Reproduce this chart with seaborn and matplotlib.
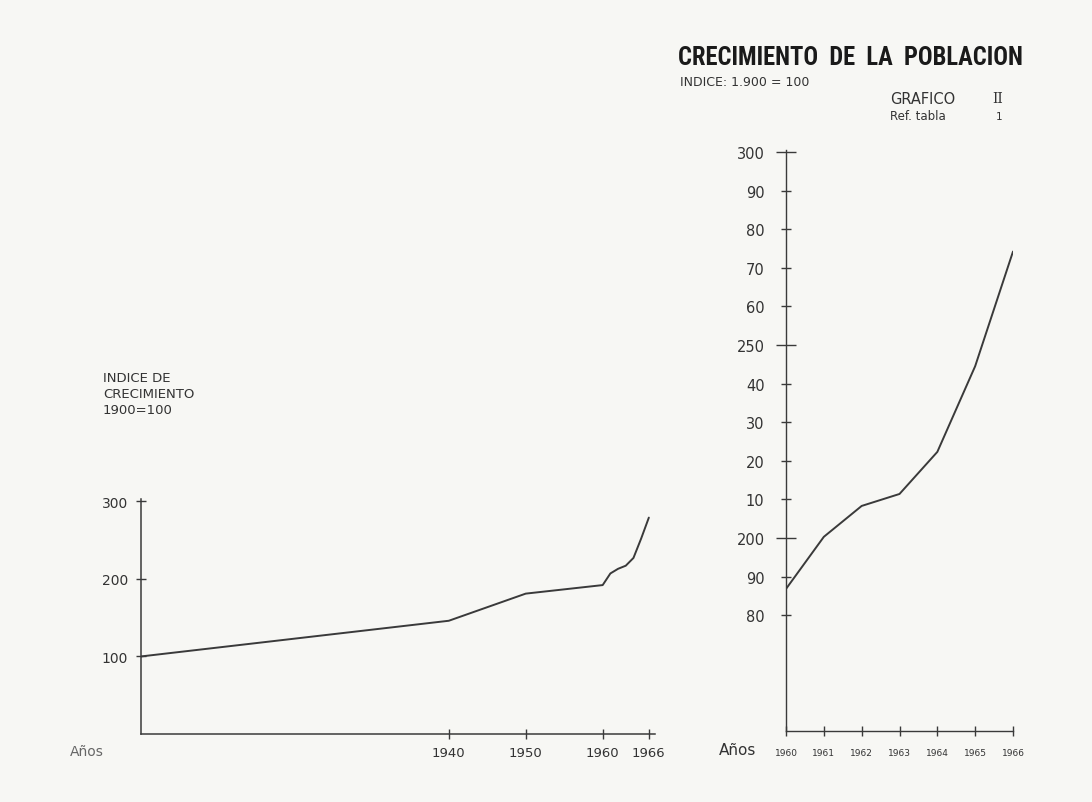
import matplotlib
matplotlib.use("Agg")
import matplotlib.pyplot as plt
from matplotlib import font_manager
import seaborn as sns
import pandas as pd

# ---- data ----
left_years = [1900, 1940, 1950, 1960, 1961, 1962, 1963, 1964, 1965, 1966]
left_index = [100, 146, 181, 192, 207, 213, 217, 227, 252, 279]

right_years = [1960, 1961, 1962, 1963, 1964, 1965, 1966]
right_index = [186.8, 200.3, 208.3, 211.4, 222.3, 244.5, 274.2]

left_xticks = [1940, 1950, 1960, 1966]
left_xlabels = ["1940", "1950", "1960", "1966"]
left_yticks = [100, 200, 300]
left_ylabels = ["100", "200", "300"]

right_ymajor = [200, 250, 300]
right_ymajor_labels = ["200", "250", "300"]
right_yminor = [180, 190, 210, 220, 230, 240, 260, 270, 280, 290]
right_yminor_labels = ["80", "90", "10", "20", "30", "40", "60", "70", "80", "90"]
right_xticks = [1960, 1961, 1962, 1963, 1964, 1965, 1966]
right_xlabels = ["1960", "1961", "1962", "1963", "1964", "1965", "1966"]

title = "CRECIMIENTO  DE  LA  POBLACION"
subtitle = "INDICE: 1.900 = 100"
grafico = "GRAFICO"
grafico_num = "II"
ref_label = "Ref. tabla"
ref_num = "1"
left_note = "INDICE DE\nCRECIMIENTO\n1900=100"
anos = "Años"

# ---- style ----
sns.set_style("ticks")
plt.rcParams["font.family"] = ["DejaVu Sans"]
paper = "#f7f7f4"
ink = "#3a3a3a"

# pick a narrow font for the title if one exists
title_family = "DejaVu Sans"
for cand in ["Liberation Sans Narrow", "DejaVu Sans Condensed", "Roboto Condensed"]:
    try:
        font_manager.findfont(cand, fallback_to_default=False)
        title_family = cand
        break
    except Exception:
        pass

fig = plt.figure(figsize=(10.92, 8.03), dpi=100, facecolor=paper)

df_left = pd.DataFrame({"year": left_years, "index": left_index})
df_right = pd.DataFrame({"year": right_years, "index": right_index})

# ---- left chart ----
axL = fig.add_axes([141 / 1092, 1 - 735 / 803, (655 - 141) / 1092, (735 - 500) / 803])
axL.set_facecolor("none")
sns.lineplot(data=df_left, x="year", y="index", ax=axL, color=ink, linewidth=1.4)
axL.set_xlim(1900, 1966.8)
axL.set_ylim(0, 303)
axL.set_xticks(left_xticks)
axL.set_xticklabels(left_xlabels, fontsize=9.5, color="#333333")
axL.set_yticks(left_yticks)
axL.set_yticklabels(left_ylabels, fontsize=10, color="#333333")
axL.tick_params(axis="both", direction="inout", length=7, width=1, color=ink)
axL.tick_params(axis="x", pad=5)
axL.tick_params(axis="y", pad=6)
axL.set_xlabel("")
axL.set_ylabel("")
for s in ["top", "right"]:
    axL.spines[s].set_visible(False)
for s in ["left", "bottom"]:
    axL.spines[s].set_color(ink)
    axL.spines[s].set_linewidth(1.1)

fig.text(103 / 1092, 1 - 372 / 803, left_note, fontsize=9.5, color="#333333",
         va="top", ha="left", linespacing=1.3)
fig.text(70 / 1092, 1 - 752 / 803, anos, fontsize=10, color="#666666",
         va="center", ha="left")

# ---- right chart ----
axR = fig.add_axes([786 / 1092, 1 - 732 / 803, (1013 - 786) / 1092, (732 - 151) / 803])
axR.set_facecolor("none")
sns.lineplot(data=df_right, x="year", y="index", ax=axR, color=ink, linewidth=1.4)
axR.set_xlim(1960, 1966)
axR.set_ylim(150, 300.5)
axR.set_yticks(right_ymajor)
axR.set_yticklabels(right_ymajor_labels, fontsize=10.5, color="#333333")
axR.set_yticks(right_yminor, minor=True)
axR.set_yticklabels(right_yminor_labels, minor=True, fontsize=10.5, color="#333333")
axR.tick_params(axis="y", which="major", direction="inout", length=14, width=1, color=ink, pad=8)
axR.tick_params(axis="y", which="minor", direction="inout", length=7, width=1, color=ink, pad=12)
axR.set_xticks(right_xticks)
axR.set_xticklabels(right_xlabels, fontsize=6.5, color="#333333")
axR.tick_params(axis="x", direction="inout", length=7, width=1, color=ink, pad=9)
axR.set_xlabel("")
axR.set_ylabel("")
for s in ["top", "right"]:
    axR.spines[s].set_visible(False)
for s in ["left", "bottom"]:
    axR.spines[s].set_color(ink)
    axR.spines[s].set_linewidth(1.0)

fig.text(719 / 1092, 1 - 751 / 803, anos, fontsize=11, color="#333333",
         va="center", ha="left")

# ---- titles ----
t = fig.text(678 / 1092, 1 - 58 / 803, title, fontsize=24, color="#1a1a1a",
             va="center", ha="left", family=title_family, fontweight="bold")
renderer = fig.canvas.get_renderer()
w = t.get_window_extent(renderer).width
target = 347.0
if w > target:
    t.set_fontsize(24 * target / w)

fig.text(680 / 1092, 1 - 82 / 803, subtitle, fontsize=9, color="#333333",
         va="center", ha="left")
fig.text(890 / 1092, 1 - 99 / 803, grafico, fontsize=10.5, color="#333333",
         va="center", ha="left")
fig.text(992 / 1092, 1 - 99 / 803, grafico_num, fontsize=10, color="#333333",
         va="center", ha="left", family="DejaVu Serif")
fig.text(890 / 1092, 1 - 117 / 803, ref_label, fontsize=8.5, color="#333333",
         va="center", ha="left")
fig.text(996 / 1092, 1 - 117 / 803, ref_num, fontsize=7.5, color="#333333",
         va="center", ha="left")

fig.savefig("out.png", dpi=100, facecolor=paper)
